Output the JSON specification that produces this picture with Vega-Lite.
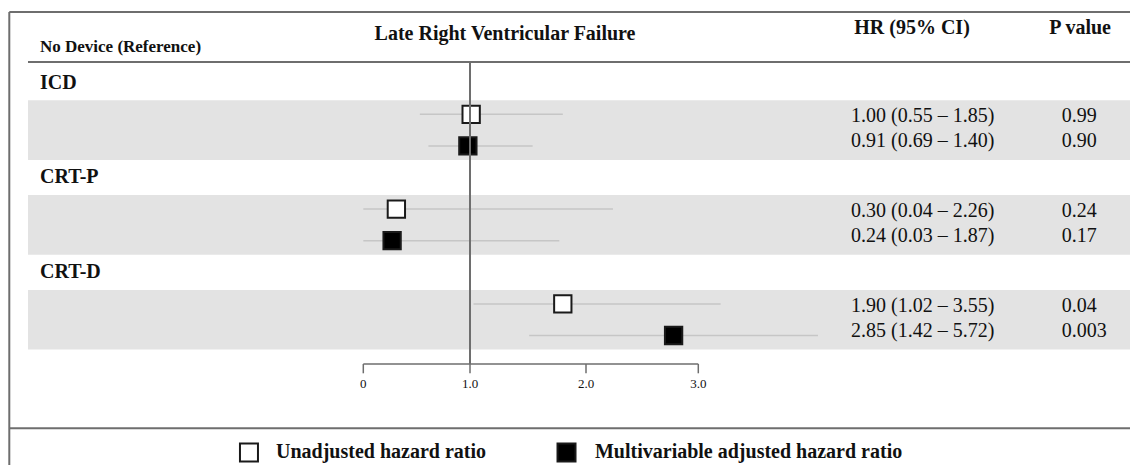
{
  "$schema": "https://vega.github.io/schema/vega-lite/v6.json",
  "width": 1130,
  "height": 465,
  "padding": 0,
  "autosize": {"type": "fit", "contains": "padding"},
  "background": "white",
  "config": {
    "view": {"stroke": null},
    "axis": {"disable": true},
    "text": {"font": "Liberation Serif", "color": "#111111"}
  },
  "datasets": {
    "estimates": [
      {"group": "ICD", "type": "Unadjusted hazard ratio", "row": 1, "est": 1.01, "ci_lo": 0.53, "ci_hi": 1.80, "hr_text": "1.00 (0.55 – 1.85)", "p_text": "0.99"},
      {"group": "ICD", "type": "Multivariable adjusted hazard ratio", "row": 2, "est": 0.98, "ci_lo": 0.61, "ci_hi": 1.54, "hr_text": "0.91 (0.69 – 1.40)", "p_text": "0.90"},
      {"group": "CRT-P", "type": "Unadjusted hazard ratio", "row": 4, "est": 0.31, "ci_lo": 0.0, "ci_hi": 2.24, "hr_text": "0.30 (0.04 – 2.26)", "p_text": "0.24"},
      {"group": "CRT-P", "type": "Multivariable adjusted hazard ratio", "row": 5, "est": 0.27, "ci_lo": 0.0, "ci_hi": 1.77, "hr_text": "0.24 (0.03 – 1.87)", "p_text": "0.17"},
      {"group": "CRT-D", "type": "Unadjusted hazard ratio", "row": 7, "est": 1.80, "ci_lo": 1.03, "ci_hi": 3.20, "hr_text": "1.90 (1.02 – 3.55)", "p_text": "0.04"},
      {"group": "CRT-D", "type": "Multivariable adjusted hazard ratio", "row": 8, "est": 2.78, "ci_lo": 1.51, "ci_hi": 4.07, "hr_text": "2.85 (1.42 – 5.72)", "p_text": "0.003"}
    ],
    "groups": [
      {"group": "ICD", "row": 0},
      {"group": "CRT-P", "row": 3},
      {"group": "CRT-D", "row": 6}
    ],
    "ticks": [
      {"v": 0, "label": "0"},
      {"v": 1, "label": "1.0"},
      {"v": 2, "label": "2.0"},
      {"v": 3, "label": "3.0"}
    ]
  },
  "layer": [
    {
      "data": {"name": "estimates"},
      "mark": {"type": "rect", "color": "#e3e3e3", "stroke": "#e3e3e3", "strokeWidth": 28},
      "encoding": {
        "x": {"datum": -3.007, "type": "quantitative", "axis": null,
              "scale": {"domain": [-3.4, 0, 1, 2, 3, 6.86], "range": [0, 363.3, 470, 586, 698.3, 1130], "nice": false, "zero": false}},
        "x2": {"datum": 6.86},
        "y": {"aggregate": "min", "field": "row", "type": "quantitative", "axis": null,
              "scale": {"domain": [-2.617, 12.098], "range": [0, 465], "nice": false, "zero": false}},
        "y2": {"aggregate": "max", "field": "row"},
        "detail": {"field": "group", "type": "nominal"}
      }
    },
    {
      "data": {"values": [{}]},
      "mark": {"type": "rule", "color": "#6e6e6e", "strokeWidth": 2},
      "encoding": {"x": {"datum": -3.313}, "x2": {"datum": 6.86}, "y": {"datum": -2.237}}
    },
    {
      "data": {"values": [{}]},
      "mark": {"type": "rule", "color": "#6e6e6e", "strokeWidth": 2},
      "encoding": {"x": {"datum": -3.138}, "x2": {"datum": 6.86}, "y": {"datum": -0.655}}
    },
    {
      "data": {"values": [{}]},
      "mark": {"type": "rule", "color": "#6e6e6e", "strokeWidth": 2},
      "encoding": {"x": {"datum": -3.313}, "x2": {"datum": 6.86}, "y": {"datum": 10.937}}
    },
    {
      "data": {"values": [{}]},
      "mark": {"type": "rule", "color": "#6e6e6e", "strokeWidth": 2},
      "encoding": {"x": {"datum": -3.313}, "y": {"datum": -2.237}, "y2": {"datum": 12.098}}
    },
    {
      "data": {"values": [{}]},
      "mark": {"type": "rule", "color": "#6e6e6e", "strokeWidth": 1.5},
      "encoding": {"x": {"datum": 0}, "x2": {"datum": 3}, "y": {"datum": 8.902}}
    },
    {
      "data": {"name": "ticks"},
      "mark": {"type": "rule", "color": "#6e6e6e", "strokeWidth": 1.5},
      "encoding": {"x": {"field": "v", "type": "quantitative"}, "y": {"datum": 8.902}, "y2": {"datum": 9.196}}
    },
    {
      "data": {"name": "ticks"},
      "mark": {"type": "text", "fontSize": 13, "align": "center", "baseline": "alphabetic"},
      "encoding": {"x": {"field": "v", "type": "quantitative"}, "y": {"datum": 9.66}, "text": {"field": "label"}}
    },
    {
      "data": {"name": "estimates"},
      "mark": {"type": "rule", "color": "#c6c6c6", "strokeWidth": 1.5},
      "encoding": {
        "x": {"field": "ci_lo", "type": "quantitative"},
        "x2": {"field": "ci_hi"},
        "y": {"field": "row", "type": "quantitative"}
      }
    },
    {
      "data": {"name": "estimates"},
      "mark": {"type": "point", "shape": "square", "filled": true, "size": 300, "stroke": "#1a1a1a", "strokeWidth": 2, "opacity": 1},
      "encoding": {
        "x": {"field": "est", "type": "quantitative"},
        "y": {"field": "row", "type": "quantitative"},
        "fill": {"field": "type", "type": "nominal", "legend": null,
                 "scale": {"domain": ["Unadjusted hazard ratio", "Multivariable adjusted hazard ratio"], "range": ["#ffffff", "#000000"]}}
      }
    },
    {
      "data": {"values": [{}]},
      "mark": {"type": "rule", "color": "#6e6e6e", "strokeWidth": 2},
      "encoding": {"x": {"datum": 1}, "y": {"datum": -0.655}, "y2": {"datum": 8.902}}
    },
    {
      "data": {"name": "groups"},
      "mark": {"type": "text", "fontSize": 20, "fontWeight": "bold", "align": "left", "baseline": "alphabetic", "dy": 6},
      "encoding": {"x": {"datum": -3.026}, "y": {"field": "row", "type": "quantitative"}, "text": {"field": "group"}}
    },
    {
      "data": {"name": "estimates"},
      "transform": [{"filter": "datum.type === 'Unadjusted hazard ratio'"}],
      "mark": {"type": "text", "fontSize": 20, "align": "left", "baseline": "alphabetic", "dy": 8},
      "encoding": {"x": {"datum": 4.366}, "y": {"field": "row", "type": "quantitative"}, "text": {"field": "hr_text"}}
    },
    {
      "data": {"name": "estimates"},
      "transform": [{"filter": "datum.type !== 'Unadjusted hazard ratio'"}],
      "mark": {"type": "text", "fontSize": 20, "align": "left", "baseline": "alphabetic", "dy": 1},
      "encoding": {"x": {"datum": 4.366}, "y": {"field": "row", "type": "quantitative"}, "text": {"field": "hr_text"}}
    },
    {
      "data": {"name": "estimates"},
      "transform": [{"filter": "datum.type === 'Unadjusted hazard ratio'"}],
      "mark": {"type": "text", "fontSize": 20, "align": "left", "baseline": "alphabetic", "dy": 8},
      "encoding": {"x": {"datum": 6.25}, "y": {"field": "row", "type": "quantitative"}, "text": {"field": "p_text"}}
    },
    {
      "data": {"name": "estimates"},
      "transform": [{"filter": "datum.type !== 'Unadjusted hazard ratio'"}],
      "mark": {"type": "text", "fontSize": 20, "align": "left", "baseline": "alphabetic", "dy": 1},
      "encoding": {"x": {"datum": 6.25}, "y": {"field": "row", "type": "quantitative"}, "text": {"field": "p_text"}}
    },
    {
      "data": {"values": [{}]},
      "mark": {"type": "text", "text": "Late Right Ventricular Failure", "fontSize": 20, "fontWeight": "bold", "align": "center", "baseline": "alphabetic"},
      "encoding": {"x": {"datum": 1.302}, "y": {"datum": -1.351}}
    },
    {
      "data": {"values": [{}]},
      "mark": {"type": "text", "text": "No Device (Reference)", "fontSize": 17, "fontWeight": "bold", "align": "left", "baseline": "alphabetic"},
      "encoding": {"x": {"datum": -3.026}, "y": {"datum": -0.981}}
    },
    {
      "data": {"values": [{}]},
      "mark": {"type": "text", "text": "HR (95% CI)", "fontSize": 20, "fontWeight": "bold", "align": "center", "baseline": "alphabetic"},
      "encoding": {"x": {"datum": 4.911}, "y": {"datum": -1.532}}
    },
    {
      "data": {"values": [{}]},
      "mark": {"type": "text", "text": "P value", "fontSize": 20, "fontWeight": "bold", "align": "center", "baseline": "alphabetic"},
      "encoding": {"x": {"datum": 6.414}, "y": {"datum": -1.532}}
    },
    {
      "data": {"values": [{"type": "Unadjusted hazard ratio"}]},
      "mark": {"type": "point", "shape": "square", "filled": true, "size": 324, "stroke": "#1a1a1a", "strokeWidth": 2, "opacity": 1},
      "encoding": {"x": {"datum": -1.07}, "y": {"datum": 11.703}, "fill": {"field": "type", "type": "nominal", "legend": null}}
    },
    {
      "data": {"values": [{"type": "Unadjusted hazard ratio"}]},
      "mark": {"type": "text", "fontSize": 20, "fontWeight": "bold", "align": "left", "baseline": "alphabetic"},
      "encoding": {"x": {"datum": -0.817}, "y": {"datum": 11.886}, "text": {"field": "type"}}
    },
    {
      "data": {"values": [{"type": "Multivariable adjusted hazard ratio"}]},
      "mark": {"type": "point", "shape": "square", "filled": true, "size": 324, "stroke": "#1a1a1a", "strokeWidth": 2, "opacity": 1},
      "encoding": {"x": {"datum": 1.832}, "y": {"datum": 11.703}, "fill": {"field": "type", "type": "nominal", "legend": null}}
    },
    {
      "data": {"values": [{"type": "Multivariable adjusted hazard ratio"}]},
      "mark": {"type": "text", "fontSize": 20, "fontWeight": "bold", "align": "left", "baseline": "alphabetic"},
      "encoding": {"x": {"datum": 2.08}, "y": {"datum": 11.886}, "text": {"field": "type"}}
    }
  ]
}
